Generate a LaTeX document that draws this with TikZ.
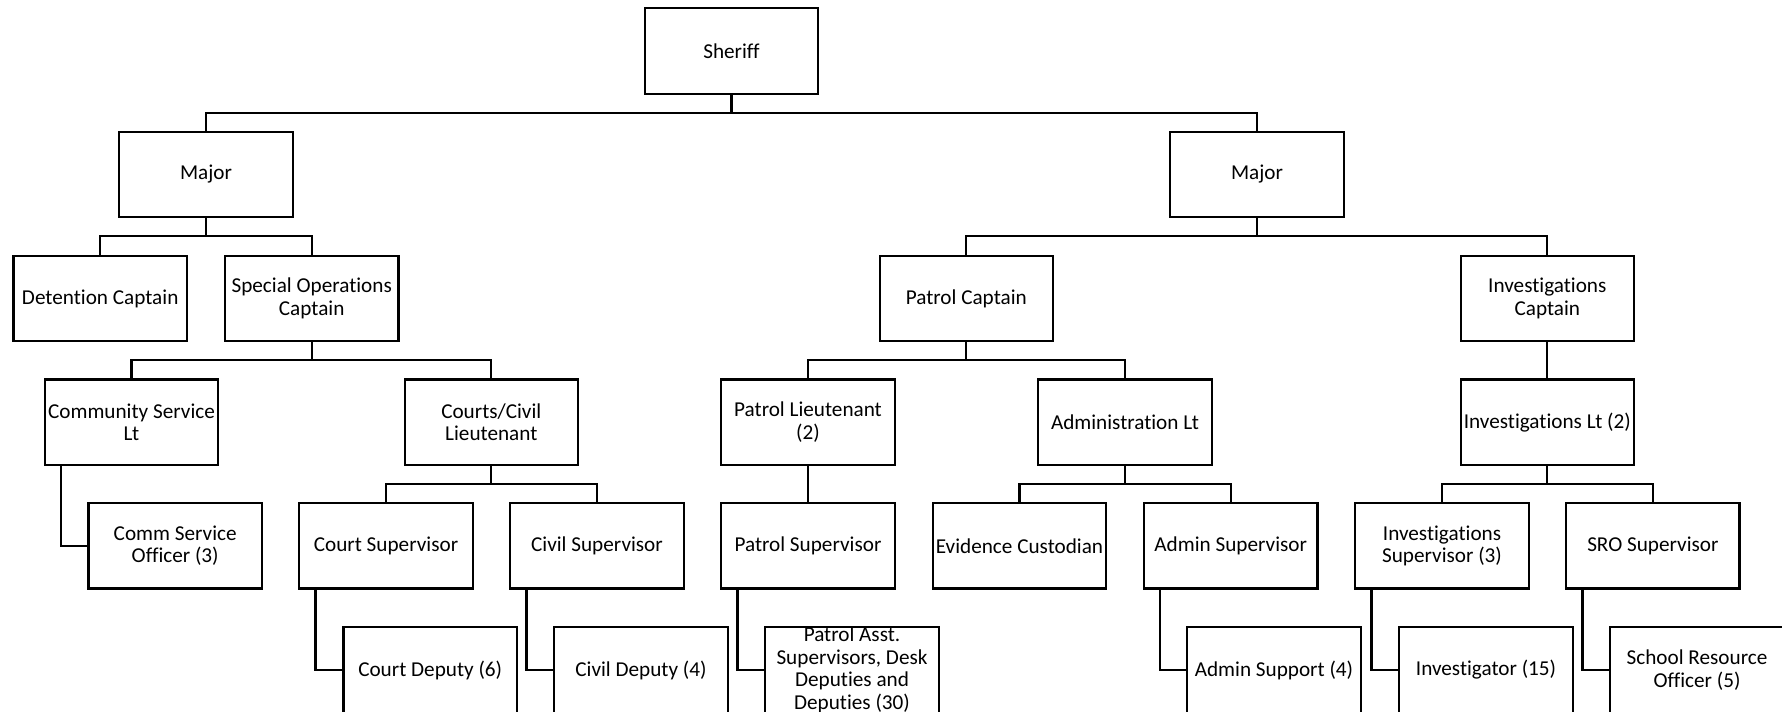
\documentclass[tikz,border=0pt]{standalone}
\usepackage{fontspec}
\setmainfont{Carlito}[Ligatures=NoCommon]
\usetikzlibrary{calc}

\begin{document}
\begin{tikzpicture}[x=0.75pt, y=-0.75pt,
post_style/.style={rectangle, draw=black, line width=1.7pt, fill=white, minimum width=130pt, minimum height=64pt, inner sep=0pt, align=center, font=\fontsize{15.9}{16.9}\selectfont},
link_style/.style={line width=1.6pt, black},
		]

\useasboundingbox (0,0) rectangle (1782,711);
\clip (0,0) rectangle (1782,711);

\begin{scope}[xshift=0cm, rotate=0]

	\def\hang{13pt}

	% top of the chart
	\node[post_style] at (731.5,51) (sheriff) []{Sheriff};
	\node[post_style] at (206,174.5) (majl) []{Major};
	\node[post_style] at (1257,174.5) (majr) []{Major};

	% captains
	\node[post_style] at (100.2,298.5) (detcap) []{Detention Captain};
	\node[post_style] at (311.7,298.5) (specop) []{Special Operations\\Captain};
	\node[post_style] at (966.3,298.5) (patcap) []{Patrol Captain};
	\node[post_style] at (1547.3,298.5) (invcap) []{Investigations\\Captain};

	% lieutenants
	\node[post_style] at (131.5,422.2) (cslt) []{Community Service\\Lt};
	\node[post_style] at (491.3,422.2) (ccivlt) []{Courts/Civil\\Lieutenant};
	\node[post_style] at (808,422.2) (patlt) []{Patrol Lieutenant\\(2)};
	\node[post_style] at (1125,422.2) (admlt) []{Administration Lt};
	\node[post_style] at (1547.3,422.2) (invlt) []{Investigations Lt (2)};

	% supervisors
	\node[post_style] at (175.2,545.8) (csoff) []{Comm Service\\Officer (3)};
	\node[post_style] at (386,545.8) (crtsup) []{Court Supervisor};
	\node[post_style] at (597,545.8) (civsup) []{Civil Supervisor};
	\node[post_style] at (808,545.8) (patsup) []{Patrol Supervisor};
	\node[post_style] at (1019.5,545.8) (evid) []{Evidence Custodian};
	\node[post_style] at (1230.7,545.8) (admsup) []{Admin Supervisor};
	\node[post_style] at (1442,545.8) (invsup) []{Investigations\\Supervisor (3)};
	\node[post_style] at (1652.9,545.8) (srosup) []{SRO Supervisor};

	% deputies
	\node[post_style] at (430.2,670) (crtdep) []{Court Deputy (6)};
	\node[post_style] at (641,670) (civdep) []{Civil Deputy (4)};
	\node[post_style] at (852,670) (patasst) []{Patrol Asst.\\Supervisors, Desk\\Deputies and\\Deputies (30)};
	\node[post_style] at (1274,670) (admsupp) []{Admin Support (4)};
	\node[post_style] at (1486,670) (invest) []{Investigator (15)};
	\node[post_style] at (1697,670) (srooff) []{School Resource\\Officer (5)};

	% buses
	\draw[link_style] (sheriff.south) -- ++(0,18) -| (majl.north);
	\draw[link_style] (sheriff.south) -- ++(0,18) -| (majr.north);
	\draw[link_style] (majl.south) -- ++(0,18) -| (detcap.north);
	\draw[link_style] (majl.south) -- ++(0,18) -| (specop.north);
	\draw[link_style] (majr.south) -- ++(0,18) -| (patcap.north);
	\draw[link_style] (majr.south) -- ++(0,18) -| (invcap.north);
	\draw[link_style] (specop.south) -- ++(0,18) -| (cslt.north);
	\draw[link_style] (specop.south) -- ++(0,18) -| (ccivlt.north);
	\draw[link_style] (patcap.south) -- ++(0,18) -| (patlt.north);
	\draw[link_style] (patcap.south) -- ++(0,18) -| (admlt.north);
	\draw[link_style] (invcap.south) -- (invlt.north);
	\draw[link_style] (ccivlt.south) -- ++(0,18) -| (crtsup.north);
	\draw[link_style] (ccivlt.south) -- ++(0,18) -| (civsup.north);
	\draw[link_style] (patlt.south) -- (patsup.north);
	\draw[link_style] (admlt.south) -- ++(0,18) -| (evid.north);
	\draw[link_style] (admlt.south) -- ++(0,18) -| (admsup.north);
	\draw[link_style] (invlt.south) -- ++(0,18) -| (invsup.north);
	\draw[link_style] (invlt.south) -- ++(0,18) -| (srosup.north);

	% hanging ones
	\draw[link_style] ([xshift=\hang]cslt.south west) |- (csoff.west);
	\draw[link_style] ([xshift=\hang]crtsup.south west) |- (crtdep.west);
	\draw[link_style] ([xshift=\hang]civsup.south west) |- (civdep.west);
	\draw[link_style] ([xshift=\hang]patsup.south west) |- (patasst.west);
	\draw[link_style] ([xshift=\hang]admsup.south west) |- (admsupp.west);
	\draw[link_style] ([xshift=\hang]invsup.south west) |- (invest.west);
	\draw[link_style] ([xshift=\hang]srosup.south west) |- (srooff.west);

\end{scope}

\end{tikzpicture}
\end{document}
